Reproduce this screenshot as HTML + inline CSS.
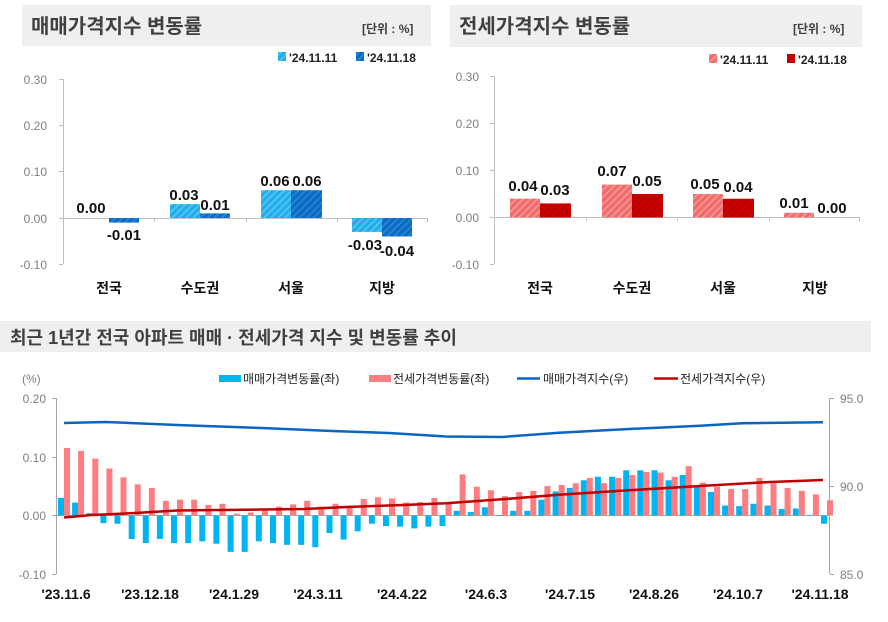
<!DOCTYPE html>
<html><head><meta charset="utf-8"><style>
html,body{margin:0;padding:0;background:#fff;}
svg{display:block;font-family:"Liberation Sans","Noto Sans CJK KR",sans-serif;}
.t{font-weight:bold;fill:#404040;}
.ax{fill:#7f7f7f;font-size:12px;}
.v{font-weight:bold;font-size:15px;fill:#111;}
.c{font-weight:bold;font-size:14px;fill:#111;}
.lg{font-size:12px;fill:#222;}
.xl{font-weight:bold;font-size:14px;fill:#111;}
</style></head><body>
<svg width="888" height="622" viewBox="0 0 888 622" xmlns="http://www.w3.org/2000/svg">
<defs>
<pattern id="hb1" width="5" height="5" patternUnits="userSpaceOnUse" patternTransform="rotate(45)"><rect width="5" height="5" fill="#22aee8"/><rect width="1.5" height="5" fill="#5cc6f0"/></pattern>
<pattern id="hb2" width="5" height="5" patternUnits="userSpaceOnUse" patternTransform="rotate(45)"><rect width="5" height="5" fill="#0a6cc4"/><rect width="1.5" height="5" fill="#2b86d6"/></pattern>
<pattern id="hr1" width="5" height="5" patternUnits="userSpaceOnUse" patternTransform="rotate(45)"><rect width="5" height="5" fill="#f26c6c"/><rect width="1.5" height="5" fill="#f79a9a"/></pattern>
<pattern id="hr2" width="5" height="5" patternUnits="userSpaceOnUse" patternTransform="rotate(45)"><rect width="5" height="5" fill="#cc0000"/><rect width="1.5" height="5" fill="#b00000"/></pattern>
</defs>

<!-- ===== Top-left ===== -->
<rect x="22" y="5" width="409" height="41" fill="#efefef"/>
<text x="31" y="33" class="t" font-size="20">매매가격지수 변동률</text>
<text x="362" y="33" class="t" font-size="12" fill="#222">[단위 : %]</text>
<rect x="278" y="52" width="8" height="9" fill="url(#hb1)"/>
<text x="289" y="62" font-size="12" font-weight="bold" fill="#222">'24.11.11</text>
<rect x="356" y="52" width="8" height="9" fill="url(#hb2)"/>
<text x="367" y="62" font-size="12" font-weight="bold" fill="#222">'24.11.18</text>
<g stroke="#bfbfbf" stroke-width="1">
<line x1="63.5" y1="79" x2="63.5" y2="264"/>
<line x1="59" y1="79.5" x2="63" y2="79.5"/><line x1="59" y1="125.5" x2="63" y2="125.5"/><line x1="59" y1="171.5" x2="63" y2="171.5"/><line x1="59" y1="218.5" x2="63" y2="218.5"/><line x1="59" y1="264.5" x2="63" y2="264.5"/>
<line x1="63" y1="218.5" x2="427" y2="218.5"/>
<line x1="154.5" y1="218" x2="154.5" y2="222"/><line x1="246.5" y1="218" x2="246.5" y2="222"/><line x1="337.5" y1="218" x2="337.5" y2="222"/><line x1="427.5" y1="218" x2="427.5" y2="222"/>
</g>
<g class="ax" text-anchor="end">
<text x="47" y="84">0.30</text><text x="47" y="130">0.20</text><text x="47" y="176">0.10</text><text x="47" y="223">0.00</text><text x="47" y="269">-0.10</text>
</g>
<rect x="109" y="218" width="30" height="4.6" fill="url(#hb2)"/>
<rect x="170" y="204.1" width="30" height="13.9" fill="url(#hb1)"/>
<rect x="200" y="213.4" width="30" height="4.6" fill="url(#hb2)"/>
<rect x="261" y="190.2" width="30" height="27.8" fill="url(#hb1)"/>
<rect x="291" y="190.2" width="31" height="27.8" fill="url(#hb2)"/>
<rect x="352" y="218" width="30" height="13.9" fill="url(#hb1)"/>
<rect x="382" y="218" width="30" height="18.5" fill="url(#hb2)"/>
<g class="v" text-anchor="middle">
<text x="91" y="213">0.00</text><text x="124" y="240">-0.01</text>
<text x="184" y="200">0.03</text><text x="215" y="210">0.01</text>
<text x="275" y="186">0.06</text><text x="307" y="186">0.06</text>
<text x="365" y="250">-0.03</text><text x="397" y="256">-0.04</text>
</g>
<g class="c" text-anchor="middle">
<text x="109" y="293">전국</text><text x="200" y="293">수도권</text><text x="291" y="293">서울</text><text x="382" y="293">지방</text>
</g>

<!-- ===== Top-right ===== -->
<rect x="450" y="5" width="412" height="42" fill="#efefef"/>
<text x="459" y="33" class="t" font-size="20">전세가격지수 변동률</text>
<text x="793" y="33" class="t" font-size="12" fill="#222">[단위 : %]</text>
<rect x="709" y="54" width="8" height="9" fill="url(#hr1)"/>
<text x="720" y="64" font-size="12" font-weight="bold" fill="#222">'24.11.11</text>
<rect x="787" y="54" width="8" height="9" fill="url(#hr2)"/>
<text x="798" y="64" font-size="12" font-weight="bold" fill="#222">'24.11.18</text>
<g stroke="#bfbfbf" stroke-width="1">
<line x1="494.5" y1="76" x2="494.5" y2="264"/>
<line x1="490" y1="76.5" x2="494" y2="76.5"/><line x1="490" y1="123.5" x2="494" y2="123.5"/><line x1="490" y1="170.5" x2="494" y2="170.5"/><line x1="490" y1="217.5" x2="494" y2="217.5"/><line x1="490" y1="264.5" x2="494" y2="264.5"/>
<line x1="494" y1="217.5" x2="860" y2="217.5"/>
<line x1="586.5" y1="217" x2="586.5" y2="221"/><line x1="677.5" y1="217" x2="677.5" y2="221"/><line x1="769.5" y1="217" x2="769.5" y2="221"/><line x1="859.5" y1="217" x2="859.5" y2="221"/>
</g>
<g class="ax" text-anchor="end">
<text x="479" y="81">0.30</text><text x="479" y="128">0.20</text><text x="479" y="175">0.10</text><text x="479" y="222">0.00</text><text x="479" y="269">-0.10</text>
</g>
<rect x="510" y="198.7" width="30" height="18.8" fill="url(#hr1)"/>
<rect x="540" y="203.4" width="31" height="14.1" fill="url(#hr2)"/>
<rect x="602" y="184.6" width="30" height="32.9" fill="url(#hr1)"/>
<rect x="632" y="194" width="31" height="23.5" fill="url(#hr2)"/>
<rect x="693" y="194" width="30" height="23.5" fill="url(#hr1)"/>
<rect x="723" y="198.7" width="31" height="18.8" fill="url(#hr2)"/>
<rect x="784" y="212.8" width="30" height="4.7" fill="url(#hr1)"/>
<g class="v" text-anchor="middle">
<text x="523" y="191">0.04</text><text x="555" y="195">0.03</text>
<text x="612" y="176">0.07</text><text x="647" y="186">0.05</text>
<text x="705" y="189">0.05</text><text x="738" y="192">0.04</text>
<text x="794" y="208">0.01</text><text x="832" y="213">0.00</text>
</g>
<g class="c" text-anchor="middle">
<text x="540" y="293">전국</text><text x="632" y="293">수도권</text><text x="723" y="293">서울</text><text x="815" y="293">지방</text>
</g>

<!-- ===== Bottom ===== -->
<rect x="0" y="321" width="871" height="31" fill="#efefef"/>
<text x="10" y="344" class="t" font-size="18">최근 1년간 전국 아파트 매매 · 전세가격 지수 및 변동률 추이</text>

<text x="22" y="383" class="ax" fill="#666">(%)</text>
<rect x="219" y="375" width="22" height="7" fill="#00b4f0"/>
<text x="243" y="383" class="lg">매매가격변동률(좌)</text>
<rect x="369" y="375" width="22" height="7" fill="#ff7c80"/>
<text x="393" y="383" class="lg">전세가격변동률(좌)</text>
<line x1="517" y1="378.5" x2="540" y2="378.5" stroke="#0b64c0" stroke-width="2.5"/>
<text x="543" y="383" class="lg">매매가격지수(우)</text>
<line x1="654" y1="378.5" x2="678" y2="378.5" stroke="#c00000" stroke-width="2.5"/>
<text x="680" y="383" class="lg">전세가격지수(우)</text>

<g stroke="#a6a6a6" stroke-width="1">
<line x1="56.5" y1="398" x2="56.5" y2="574"/>
<line x1="52" y1="398.5" x2="56" y2="398.5"/><line x1="52" y1="457.5" x2="56" y2="457.5"/><line x1="52" y1="515.5" x2="56" y2="515.5"/><line x1="52" y1="574.5" x2="56" y2="574.5"/>
<line x1="829.5" y1="398" x2="829.5" y2="574"/>
<line x1="830" y1="398.5" x2="834" y2="398.5"/><line x1="830" y1="486.5" x2="834" y2="486.5"/><line x1="830" y1="574.5" x2="834" y2="574.5"/>
<line x1="56" y1="515.5" x2="829" y2="515.5"/>
</g>
<g class="ax" text-anchor="end">
<text x="46" y="403">0.20</text><text x="46" y="462">0.10</text><text x="46" y="520">0.00</text><text x="46" y="579">-0.10</text>
</g>
<g class="ax">
<text x="840" y="403">95.0</text><text x="840" y="491">90.0</text><text x="840" y="579">85.0</text>
</g>

<g transform="translate(0,515.5) scale(1,-587)" fill="#00b4f0">
<rect x="58" y="0" width="6" height=".03"/>
<rect x="72.1" y="0" width="6" height=".022"/>
<rect x="86.3" y="0" width="6" height=".004"/>
<rect x="100.4" y="-.013" width="6" height=".013"/>
<rect x="114.5" y="-.014" width="6" height=".014"/>
<rect x="128.7" y="-.04" width="6" height=".04"/>
<rect x="142.8" y="-.047" width="6" height=".047"/>
<rect x="156.9" y="-.04" width="6" height=".04"/>
<rect x="171" y="-.047" width="6" height=".047"/>
<rect x="185.2" y="-.047" width="6" height=".047"/>
<rect x="199.3" y="-.044" width="6" height=".044"/>
<rect x="213.4" y="-.048" width="6" height=".048"/>
<rect x="227.6" y="-.062" width="6" height=".062"/>
<rect x="241.7" y="-.062" width="6" height=".062"/>
<rect x="255.8" y="-.044" width="6" height=".044"/>
<rect x="270" y="-.047" width="6" height=".047"/>
<rect x="284.1" y="-.05" width="6" height=".05"/>
<rect x="298.2" y="-.05" width="6" height=".05"/>
<rect x="312.3" y="-.054" width="6" height=".054"/>
<rect x="326.5" y="-.03" width="6" height=".03"/>
<rect x="340.6" y="-.041" width="6" height=".041"/>
<rect x="354.7" y="-.027" width="6" height=".027"/>
<rect x="368.9" y="-.014" width="6" height=".014"/>
<rect x="383" y="-.018" width="6" height=".018"/>
<rect x="397.1" y="-.019" width="6" height=".019"/>
<rect x="411.3" y="-.022" width="6" height=".022"/>
<rect x="425.4" y="-.019" width="6" height=".019"/>
<rect x="439.5" y="-.018" width="6" height=".018"/>
<rect x="453.6" y="0" width="6" height=".008"/>
<rect x="467.8" y="0" width="6" height=".006"/>
<rect x="481.9" y="0" width="6" height=".014"/>
<rect x="496" y="0" width="6" height=".001"/>
<rect x="510.2" y="0" width="6" height=".008"/>
<rect x="524.3" y="0" width="6" height=".008"/>
<rect x="538.4" y="0" width="6" height=".027"/>
<rect x="552.6" y="0" width="6" height=".041"/>
<rect x="566.7" y="0" width="6" height=".047"/>
<rect x="580.8" y="0" width="6" height=".06"/>
<rect x="594.9" y="0" width="6" height=".066"/>
<rect x="609.1" y="0" width="6" height=".066"/>
<rect x="623.2" y="0" width="6" height=".077"/>
<rect x="637.3" y="0" width="6" height=".077"/>
<rect x="651.5" y="0" width="6" height=".077"/>
<rect x="665.6" y="0" width="6" height=".06"/>
<rect x="679.7" y="0" width="6" height=".069"/>
<rect x="693.9" y="0" width="6" height=".049"/>
<rect x="708" y="0" width="6" height=".04"/>
<rect x="722.1" y="0" width="6" height=".017"/>
<rect x="736.2" y="0" width="6" height=".016"/>
<rect x="750.4" y="0" width="6" height=".02"/>
<rect x="764.5" y="0" width="6" height=".017"/>
<rect x="778.6" y="0" width="6" height=".011"/>
<rect x="792.8" y="0" width="6" height=".012"/>
<rect x="806.9" y="0" width="6" height=".001"/>
<rect x="821" y="-.014" width="6" height=".014"/>
</g>
<g transform="translate(6,515.5) scale(1,-587)" fill="#ff7c80">
<rect x="58" y="0" width="6" height=".115"/>
<rect x="72.1" y="0" width="6" height=".11"/>
<rect x="86.3" y="0" width="6" height=".097"/>
<rect x="100.4" y="0" width="6" height=".08"/>
<rect x="114.5" y="0" width="6" height=".065"/>
<rect x="128.7" y="0" width="6" height=".053"/>
<rect x="142.8" y="0" width="6" height=".047"/>
<rect x="156.9" y="0" width="6" height=".025"/>
<rect x="171" y="0" width="6" height=".027"/>
<rect x="185.2" y="0" width="6" height=".027"/>
<rect x="199.3" y="0" width="6" height=".018"/>
<rect x="213.4" y="0" width="6" height=".02"/>
<rect x="227.6" y="0" width="6" height=".003"/>
<rect x="241.7" y="0" width="6" height=".005"/>
<rect x="255.8" y="0" width="6" height=".008"/>
<rect x="270" y="0" width="6" height=".015"/>
<rect x="284.1" y="0" width="6" height=".019"/>
<rect x="298.2" y="0" width="6" height=".025"/>
<rect x="312.3" y="0" width="6" height=".015"/>
<rect x="326.5" y="0" width="6" height=".02"/>
<rect x="340.6" y="0" width="6" height=".017"/>
<rect x="354.7" y="0" width="6" height=".028"/>
<rect x="368.9" y="0" width="6" height=".031"/>
<rect x="383" y="0" width="6" height=".029"/>
<rect x="397.1" y="0" width="6" height=".022"/>
<rect x="411.3" y="0" width="6" height=".023"/>
<rect x="425.4" y="0" width="6" height=".03"/>
<rect x="439.5" y="0" width="6" height=".02"/>
<rect x="453.6" y="0" width="6" height=".07"/>
<rect x="467.8" y="0" width="6" height=".049"/>
<rect x="481.9" y="0" width="6" height=".043"/>
<rect x="496" y="0" width="6" height=".033"/>
<rect x="510.2" y="0" width="6" height=".04"/>
<rect x="524.3" y="0" width="6" height=".042"/>
<rect x="538.4" y="0" width="6" height=".05"/>
<rect x="552.6" y="0" width="6" height=".052"/>
<rect x="566.7" y="0" width="6" height=".055"/>
<rect x="580.8" y="0" width="6" height=".064"/>
<rect x="594.9" y="0" width="6" height=".055"/>
<rect x="609.1" y="0" width="6" height=".064"/>
<rect x="623.2" y="0" width="6" height=".069"/>
<rect x="637.3" y="0" width="6" height=".074"/>
<rect x="651.5" y="0" width="6" height=".073"/>
<rect x="665.6" y="0" width="6" height=".066"/>
<rect x="679.7" y="0" width="6" height=".084"/>
<rect x="693.9" y="0" width="6" height=".056"/>
<rect x="708" y="0" width="6" height=".049"/>
<rect x="722.1" y="0" width="6" height=".045"/>
<rect x="736.2" y="0" width="6" height=".045"/>
<rect x="750.4" y="0" width="6" height=".064"/>
<rect x="764.5" y="0" width="6" height=".055"/>
<rect x="778.6" y="0" width="6" height=".047"/>
<rect x="792.8" y="0" width="6" height=".042"/>
<rect x="806.9" y="0" width="6" height=".036"/>
<rect x="821" y="0" width="6" height=".026"/>
</g>

<polyline fill="none" stroke="#0b64c0" stroke-width="2.5" stroke-linejoin="round" points="64,423 106,422 177,425 262,428 332,431 389,433 446,436.5 502,437 559,432.7 629,429 657,427.7 700,425.7 742,423.3 823,422.3"/>
<polyline fill="none" stroke="#c00000" stroke-width="2.5" stroke-linejoin="round" points="64,517.5 92,515 135,513 177,510.5 262,509.5 304,509 347,507 403,505 446,503.3 502,499.3 559,494.7 629,490.3 700,486 770,482 823,480"/>

<g class="xl" text-anchor="middle">
<text x="66" y="599">'23.11.6</text>
<text x="150" y="599">'23.12.18</text>
<text x="234" y="599">'24.1.29</text>
<text x="318" y="599">'24.3.11</text>
<text x="402" y="599">'24.4.22</text>
<text x="486" y="599">'24.6.3</text>
<text x="570" y="599">'24.7.15</text>
<text x="654" y="599">'24.8.26</text>
<text x="738" y="599">'24.10.7</text>
<text x="820" y="599">'24.11.18</text>
</g>
</svg>
</body></html>
